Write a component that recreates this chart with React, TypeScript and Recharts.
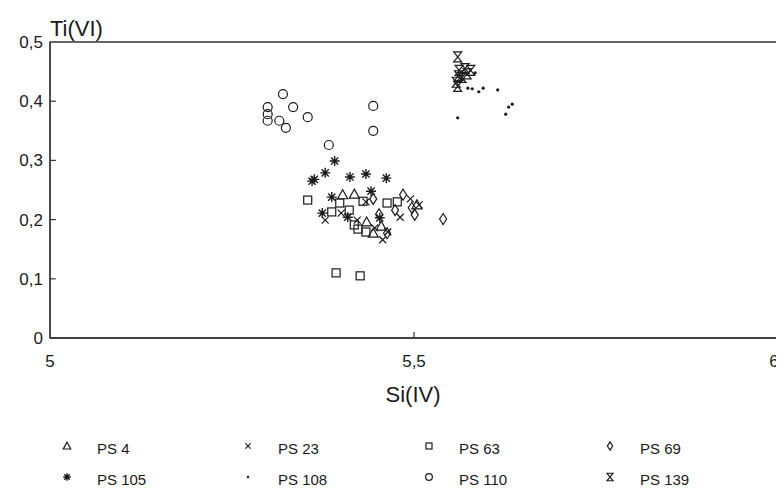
import React from 'react';
import { ScatterChart, Scatter, XAxis, YAxis, ReferenceArea, ReferenceLine } from 'recharts';

type Pt = [number, number];

const PS4: Pt[] = [[5.402,0.242],[5.418,0.243],[5.435,0.196],[5.444,0.177],[5.455,0.189],[5.504,0.225]];
const PS23: Pt[] = [[5.378,0.199],[5.400,0.211],[5.422,0.199],[5.446,0.186],[5.457,0.166],[5.464,0.179],[5.495,0.235],[5.481,0.204],[5.434,0.230],[5.507,0.225]];
const PS63: Pt[] = [[5.354,0.233],[5.398,0.228],[5.411,0.216],[5.430,0.231],[5.463,0.228],[5.477,0.230],[5.387,0.213],[5.418,0.191],[5.423,0.184],[5.434,0.179],[5.393,0.110],[5.426,0.105]];
const PS69: Pt[] = [[5.444,0.235],[5.485,0.242],[5.474,0.216],[5.501,0.208],[5.452,0.209],[5.463,0.177],[5.540,0.201],[5.497,0.220]];
const PS105: Pt[] = [[5.391,0.299],[5.378,0.279],[5.360,0.265],[5.363,0.268],[5.412,0.272],[5.434,0.277],[5.462,0.270],[5.387,0.238],[5.441,0.248],[5.374,0.211],[5.409,0.204],[5.453,0.203]];
const PS108: Pt[] = [[5.584,0.448],[5.567,0.437],[5.574,0.422],[5.580,0.421],[5.589,0.416],[5.595,0.422],[5.615,0.419],[5.635,0.395],[5.630,0.390],[5.626,0.378],[5.560,0.372]];
const PS110: Pt[] = [[5.320,0.412],[5.299,0.390],[5.334,0.390],[5.299,0.378],[5.299,0.367],[5.315,0.367],[5.324,0.355],[5.354,0.373],[5.444,0.392],[5.444,0.350],[5.383,0.326]];
const PS139: Pt[] = [[5.560,0.475],[5.562,0.452],[5.570,0.455],[5.578,0.452],[5.561,0.443],[5.566,0.440],[5.558,0.432],[5.560,0.425],[5.573,0.446]];

const X_TICKS = [5, 5.5, 6];
const Y_TICKS = [0, 0.1, 0.2, 0.3, 0.4, 0.5];
const X_TITLE = 'Si(IV)';
const Y_TITLE = 'Ti(VI)';

type Kind = 'triangle' | 'cross' | 'square' | 'diamond' | 'asterisk' | 'dot' | 'circle' | 'hourglass';

const SERIES: { name: string; kind: Kind; data: Pt[] }[] = [
  { name: 'PS 4', kind: 'triangle', data: PS4 },
  { name: 'PS 23', kind: 'cross', data: PS23 },
  { name: 'PS 63', kind: 'square', data: PS63 },
  { name: 'PS 69', kind: 'diamond', data: PS69 },
  { name: 'PS 105', kind: 'asterisk', data: PS105 },
  { name: 'PS 108', kind: 'dot', data: PS108 },
  { name: 'PS 110', kind: 'circle', data: PS110 },
  { name: 'PS 139', kind: 'hourglass', data: PS139 },
];

const INK = '#1a1a1a';
const FONT = '"Liberation Sans", Arial, sans-serif';

function Marker({ kind, cx, cy, s = 1 }: { kind: Kind; cx: number; cy: number; s?: number }) {
  const sw = 1.2;
  const common = { fill: 'none', stroke: INK, strokeWidth: sw };
  switch (kind) {
    case 'triangle':
      return <path d={`M${cx},${cy - 5 * s} L${cx + 5 * s},${cy + 4 * s} L${cx - 5 * s},${cy + 4 * s} Z`} {...common} />;
    case 'cross':
      return <path d={`M${cx - 3.5 * s},${cy - 3.5 * s} L${cx + 3.5 * s},${cy + 3.5 * s} M${cx + 3.5 * s},${cy - 3.5 * s} L${cx - 3.5 * s},${cy + 3.5 * s}`} {...common} />;
    case 'square':
      return <rect x={cx - 4 * s} y={cy - 4 * s} width={8 * s} height={8 * s} {...common} />;
    case 'diamond':
      return <path d={`M${cx},${cy - 5.5 * s} L${cx + 3.5 * s},${cy} L${cx},${cy + 5.5 * s} L${cx - 3.5 * s},${cy} Z`} {...common} />;
    case 'asterisk': {
      const r = 5 * s, d = 3.6 * s;
      return <path d={`M${cx},${cy - r} L${cx},${cy + r} M${cx - r},${cy} L${cx + r},${cy} M${cx - d},${cy - d} L${cx + d},${cy + d} M${cx + d},${cy - d} L${cx - d},${cy + d}`} fill="none" stroke={INK} strokeWidth={1.4} />;
    }
    case 'dot':
      return <circle cx={cx} cy={cy} r={1.6 * s} fill={INK} />;
    case 'circle':
      return <circle cx={cx} cy={cy} r={4.5 * s} {...common} />;
    case 'hourglass':
      return <path d={`M${cx - 4 * s},${cy - 5 * s} L${cx + 4 * s},${cy - 5 * s} L${cx - 4 * s},${cy + 5 * s} L${cx + 4 * s},${cy + 5 * s} Z`} {...common} />;
  }
  return null;
}

const fmt = (v: number) => (v === 0 ? '0' : String(v).replace('.', ','));

const tickStyle = { fontFamily: FONT, fontSize: 17, fill: INK };

function XTick(props: any) {
  const { x, y, payload } = props;
  const v = payload.value as number;
  const dx = v === 6 ? -4 : 0;
  return (
    <text x={x + dx} y={y} dy="0.71em" textAnchor="middle" fontFamily={FONT} fontSize={17} fill={INK}>
      {fmt(v)}
    </text>
  );
}

export default function App() {
  const W = 776, H = 484;
  return (
    <div style={{ position: 'relative', width: W, height: H, background: '#fff', fontFamily: FONT, color: INK }}>
      <ScatterChart width={W} height={H} margin={{ top: 34, right: 6, left: 2, bottom: 124 }}>
        <XAxis
          type="number"
          dataKey="x"
          domain={[5, 6]}
          ticks={X_TICKS}
          tickLine={false}
          tickSize={0}
          tickMargin={17}
          height={30}
          axisLine={{ stroke: '#333', strokeWidth: 1.3 }}
          tick={<XTick />}
          interval={0}
          allowDataOverflow
        />
        <YAxis
          type="number"
          dataKey="y"
          domain={[0, 0.5]}
          ticks={Y_TICKS}
          tickFormatter={fmt}
          tickLine={false}
          tickSize={0}
          tickMargin={7}
          width={40}
          axisLine={{ stroke: '#333', strokeWidth: 1.3 }}
          tick={tickStyle}
          interval={0}
          allowDataOverflow
        />
        <ReferenceArea x1={5} x2={6} y1={0} y2={0.5} fill="none" stroke="#333" strokeWidth={1.3} />
        {Y_TICKS.filter((t) => t > 0 && t < 0.5).map((t) => (
          <ReferenceLine key={'yt' + t} segment={[{ x: 5, y: t }, { x: 5.008, y: t }]} stroke="#333" strokeWidth={1.2} />
        ))}
        {X_TICKS.filter((t) => t > 5 && t < 6).map((t) => (
          <ReferenceLine key={'xt' + t} segment={[{ x: t, y: 0 }, { x: t, y: 0.01 }]} stroke="#333" strokeWidth={1.2} />
        ))}
        {SERIES.map((s) => (
          <Scatter
            key={s.name}
            name={s.name}
            data={s.data.map(([x, y]) => ({ x, y }))}
            isAnimationActive={false}
            shape={(p: any) => <Marker kind={s.kind} cx={p.cx} cy={p.cy} />}
          />
        ))}
      </ScatterChart>
      <div style={{ position: 'absolute', left: 42, top: 8, fontSize: 22, lineHeight: '26px' }}>{Y_TITLE}</div>
      <div style={{ position: 'absolute', left: 355, width: 100, textAlign: 'center', top: 374, fontSize: 22, lineHeight: '26px' }}>{X_TITLE}</div>
      {SERIES.map((s, i) => {
        const col = i % 4, row = Math.floor(i / 4);
        const left = 49 + col * 181;
        const top = 430 + row * 31;
        return (
          <div key={s.name} style={{ position: 'absolute', left, top, height: 20, display: 'flex', alignItems: 'center' }}>
            <svg width={20} height={20} style={{ display: 'block' }}>
              <Marker kind={s.kind} cx={10} cy={8} s={0.75} />
            </svg>
            <span style={{ marginLeft: 20, fontSize: 15 }}>{s.name}</span>
          </div>
        );
      })}
    </div>
  );
}
